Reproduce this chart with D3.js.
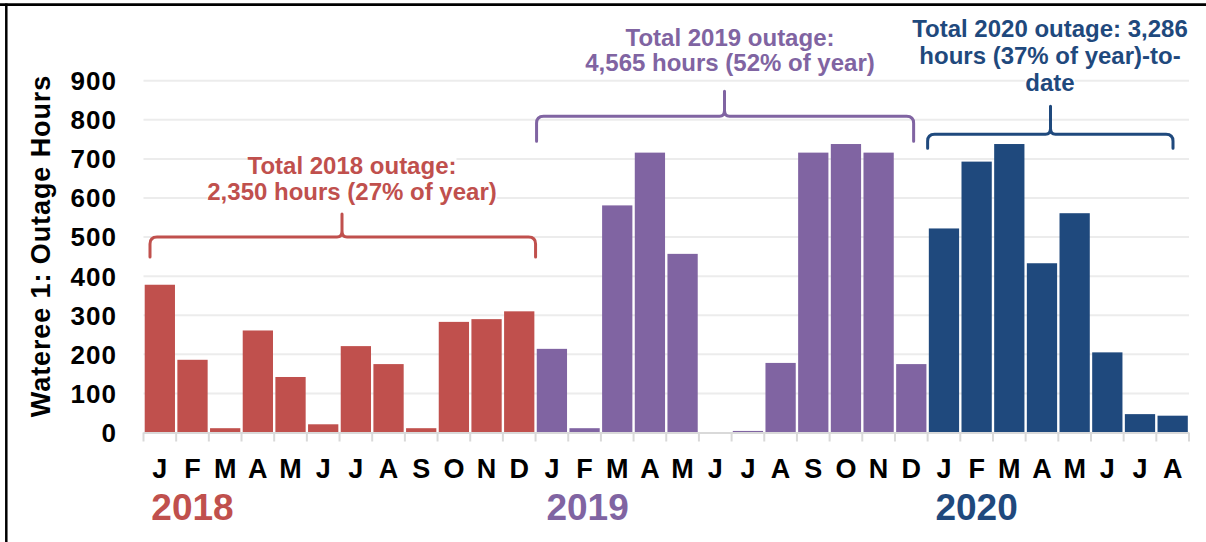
<!DOCTYPE html>
<html>
<head>
<meta charset="utf-8">
<script src="https://cdn.jsdelivr.net/npm/d3@7"></script>
<style>
  body { margin: 0; background: #fff; }
  svg { display: block; font-family: "Liberation Sans", Arial, sans-serif; }
</style>
</head>
<body>
<svg id="chart"></svg>
<script>
// chart size
var width = 1206,
    height = 542;

// data
var years = ["2018", "2019", "2020"];
var yearColors = ["#C0504D", "#8064A2", "#1F497D"];
var monthLetters = ["J", "F", "M", "A", "M", "J", "J", "A", "S", "O", "N", "D"];
var hours2018 = [378, 186, 11, 261, 142, 21, 221, 175, 11, 283, 290, 310];
var hours2019 = [214, 11, 581, 716, 457, 0, 4, 178, 716, 738, 716, 175];
var hours2020 = [522, 693, 738, 433, 561, 205, 47, 43];
var yTicks = [0, 100, 200, 300, 400, 500, 600, 700, 800, 900];

// annotation text, one list of lines per year
var noteLines2018 = ["Total 2018 outage:", "2,350 hours (27% of year)"];
var noteLines2019 = ["Total 2019 outage:", "4,565 hours (52% of year)"];
var noteLines2020 = ["Total 2020 outage: 3,286", "hours (37% of year)-to-", "date"];

var series = [hours2018, hours2019, hours2020];
var rows = [];
series.forEach(function(vals, yi) {
  vals.forEach(function(v, mi) {
    rows.push({ year: yi, month: monthLetters[mi], value: v, idx: rows.length });
  });
});

var svg = d3.select("#chart")
    .attr("width", width)
    .attr("height", height);

var x = d3.scaleBand()
    .domain(rows.map(function(d) { return d.idx; }))
    .range([143.5, 1189])
    .padding(0);

var y = d3.scaleLinear()
    .domain([0, 900])
    .range([432.5, 80.7]);

var bw = x.bandwidth();

// frame (top and left edges only)
svg.append("line")
  .attr("x1", 0).attr("x2", width)
  .attr("y1", 4.7).attr("y2", 4.7)
  .style("stroke", "#000").style("stroke-width", 2.7);
svg.append("line")
  .attr("x1", 6.3).attr("x2", 6.3)
  .attr("y1", 3.4).attr("y2", height)
  .style("stroke", "#000").style("stroke-width", 2.5);

// gridlines
svg.append("g")
  .selectAll("line")
  .data(yTicks.slice(1))
  .enter().append("line")
    .attr("x1", 143.5).attr("x2", 1189)
    .attr("y1", function(d) { return y(d); })
    .attr("y2", function(d) { return y(d); })
    .style("stroke", "#ececec")
    .style("stroke-width", 2);

// y tick labels
svg.append("g")
  .selectAll("text")
  .data(yTicks)
  .enter().append("text")
    .attr("x", 117)
    .attr("y", function(d) { return y(d); })
    .attr("dy", "0.36em")
    .style("text-anchor", "end")
    .style("font-size", "26px")
    .style("font-weight", "bold")
    .style("letter-spacing", "1px")
    .text(function(d) { return d; });

// y axis title
svg.append("text")
  .attr("transform", "translate(49.5,246) rotate(-90)")
  .style("text-anchor", "middle")
  .style("font-size", "27px")
  .style("font-weight", "bold")
  .style("letter-spacing", "0.9px")
  .text("Wateree 1: Outage Hours");

// bars, with a thin white gap on each side
svg.append("g")
  .selectAll("rect")
  .data(rows)
  .enter().append("rect")
    .attr("x", function(d) { return x(d.idx) + 1.2; })
    .attr("y", function(d) { return y(d.value); })
    .attr("width", bw - 2.4)
    .attr("height", function(d) { return y(0) - y(d.value); })
    .style("fill", function(d) { return yearColors[d.year]; });

// x axis line and ticks at band edges
var axisG = svg.append("g");
axisG.append("line")
  .attr("x1", 143.5).attr("x2", 1189)
  .attr("y1", y(0) + 0.5).attr("y2", y(0) + 0.5)
  .style("stroke", "#d9d9d9").style("stroke-width", 2);
axisG.selectAll(".tick")
  .data(d3.range(rows.length + 1))
  .enter().append("line")
    .attr("x1", function(i) { return 143.5 + i * bw; })
    .attr("x2", function(i) { return 143.5 + i * bw; })
    .attr("y1", y(0)).attr("y2", y(0) + 9)
    .style("stroke", "#d9d9d9").style("stroke-width", 2);

// month letters
svg.append("g")
  .selectAll("text")
  .data(rows)
  .enter().append("text")
    .attr("x", function(d) { return x(d.idx) + bw / 2; })
    .attr("y", 478)
    .style("text-anchor", "middle")
    .style("font-size", "27px")
    .style("font-weight", "bold")
    .text(function(d) { return d.month; });

// year labels under the second month of each year
var yearStart = [0, 12, 24];
var yearNudge = [0, 3, 0];
svg.append("g")
  .selectAll("text")
  .data(years)
  .enter().append("text")
    .attr("x", function(d, i) { return x(yearStart[i] + 1) + bw / 2 + yearNudge[i]; })
    .attr("y", 520)
    .style("text-anchor", "middle")
    .style("font-size", "37px")
    .style("font-weight", "bold")
    .style("fill", function(d, i) { return yearColors[i]; })
    .text(function(d) { return d; });

// braces: span in category indices, level in hours
var braces = [
  { year: 0, from: 0, to: 11, padL: 6.5, padR: 0, level: 500, drop: 20, rise: 23, mid: 342, lines: noteLines2018, cx: 352, baselines: [173.5, 200] },
  { year: 1, from: 12, to: 23, padL: 1, padR: 14, level: 809, drop: 25, rise: 25, mid: 724.5, lines: noteLines2019, cx: 730, baselines: [46, 70.5] },
  { year: 2, from: 24, to: 31, padL: 0, padR: 16, level: 763, drop: 14, rise: 28, mid: 1050.5, lines: noteLines2020, cx: 1050, baselines: [37, 63.5, 90.5] }
];

function bracePath(b) {
  var x0 = x(b.from) + b.padL,
      x1 = x(b.to) + bw - b.padR,
      yt = y(b.level),
      yb = yt + b.drop,
      yp = yt - b.rise,
      r = 7, m = b.mid;
  return "M" + x0 + "," + yb +
    " L" + x0 + "," + (yt + r) +
    " Q" + x0 + "," + yt + " " + (x0 + r) + "," + yt +
    " L" + (m - 5) + "," + yt +
    " Q" + m + "," + yt + " " + m + "," + (yt - 6) +
    " L" + m + "," + yp +
    " M" + m + "," + (yt - 6) +
    " Q" + m + "," + yt + " " + (m + 5) + "," + yt +
    " L" + (x1 - r) + "," + yt +
    " Q" + x1 + "," + yt + " " + x1 + "," + (yt + r) +
    " L" + x1 + "," + yb;
}

svg.append("g")
  .selectAll("path")
  .data(braces)
  .enter().append("path")
    .attr("d", bracePath)
    .style("fill", "none")
    .style("stroke", function(d) { return yearColors[d.year]; })
    .style("stroke-width", 3)
    .style("stroke-linecap", "round");

// annotation text; white boxes sit in a layer under all the lines
var noteBoxes = svg.append("g");
var noteText = svg.append("g");
braces.forEach(function(b) {
  b.lines.forEach(function(line, i) {
    var t = noteText.append("text")
      .attr("x", b.cx)
      .attr("y", b.baselines[i])
      .style("text-anchor", "middle")
      .style("font-size", "24px")
      .style("font-weight", "bold")
      .style("fill", yearColors[b.year])
      .text(line);
    var bb = t.node().getBBox();
    noteBoxes.append("rect")
      .attr("x", bb.x).attr("y", bb.y + 4)
      .attr("width", bb.width).attr("height", bb.height - 8)
      .style("fill", "#fff");
  });
});
</script>
</body>
</html>
